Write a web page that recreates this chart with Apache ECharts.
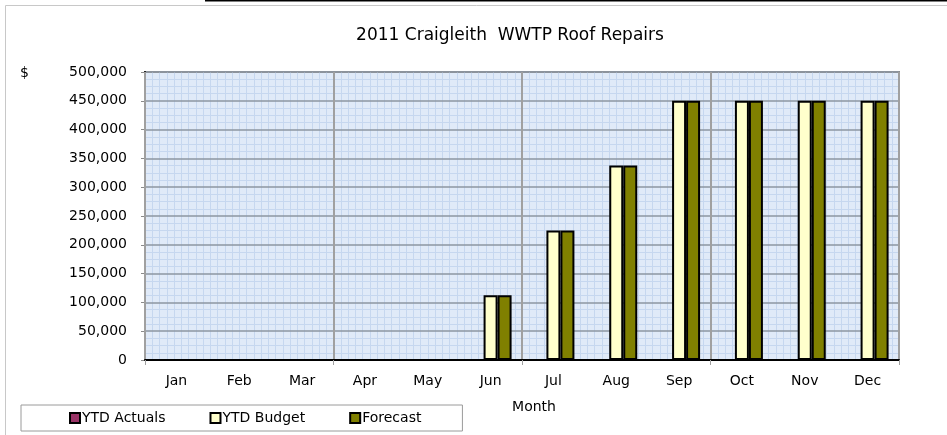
<!DOCTYPE html>
<html>
<head>
<meta charset="utf-8">
<script src="https://cdn.jsdelivr.net/npm/echarts@6/dist/echarts.min.js"></script>
<style>
  html, body { margin: 0; padding: 0; background: #fff; }
  #main { width: 947px; height: 435px; }
</style>
</head>
<body>
<div id="main"></div>
<script>
// chart data
var months = ['Jan', 'Feb', 'Mar', 'Apr', 'May', 'Jun', 'Jul', 'Aug', 'Sep', 'Oct', 'Nov', 'Dec'];
var ytdActuals = [0, 0, 0, 0, 0, 0, 0, 0, 0, 0, 0, 0];
var ytdBudget = [0, 0, 0, 0, 0, 112500, 225000, 337500, 450000, 450000, 450000, 450000];
var forecast = [0, 0, 0, 0, 0, 112500, 225000, 337500, 450000, 450000, 450000, 450000];
var yTicks = [0, 50000, 100000, 150000, 200000, 250000, 300000, 350000, 400000, 450000, 500000];

var font = 'DejaVu Sans';
var myChart = echarts.init(document.getElementById('main'));

var option = {
    animation: false,
    backgroundColor: '#fff',
    textStyle: { fontFamily: font, color: '#000' },
    title: {
        text: '2011 Craigleith  WWTP Roof Repairs',
        left: 505,
        textAlign: 'center',
        top: 22,
        textStyle: { fontFamily: font, fontSize: 17, fontWeight: 'normal', color: '#000' }
    },
    graphic: [
        // outer chart frame
        { type: 'rect', shape: { x: 5.5, y: 5.5, width: 960, height: 450 }, style: { fill: 'none', stroke: '#c8c8c8', lineWidth: 1 }, silent: true },
        // bit of the sheet above the chart
        { type: 'line', shape: { x1: 205, y1: 0.5, x2: 947, y2: 0.5 }, style: { stroke: '#000', lineWidth: 2 }, silent: true },
        { type: 'text', left: 20, top: 66, style: { text: '$', font: '14px "DejaVu Sans"', fill: '#000' } }
    ],
    legend: {
        left: 21,
        top: 405,
        data: ['YTD Actuals', 'YTD Budget', 'Forecast'],
        icon: 'rect',
        itemWidth: 10,
        itemHeight: 10,
        itemGap: 44,
        padding: [6, 41, 6, 48],
        borderColor: '#9a9a9a',
        borderWidth: 1,
        textStyle: { fontFamily: font, fontSize: 14, color: '#000', padding: [0, 0, 0, -3] }
    },
    grid: {
        left: 145,
        right: 48,
        top: 72,
        bottom: 75,
        show: true,
        backgroundColor: '#e0eaf8',
        borderColor: '#8a8a8a',
        borderWidth: 2
    },
    xAxis: [
        {
            type: 'category',
            data: months,
            name: 'Month',
            nameLocation: 'middle',
            nameGap: 40,
            nameTextStyle: { fontFamily: font, fontSize: 14, color: '#000', padding: [0, 0, 0, 24] },
            axisLine: { lineStyle: { color: '#000', width: 2 } },
            axisTick: { show: true, interval: 2, length: 5, lineStyle: { color: '#a0a0a0', width: 1 } },
            splitLine: { show: true, interval: 2, lineStyle: { color: '#a0a0a0', width: 2 } },
            axisLabel: { margin: 14, fontFamily: font, fontSize: 14, color: '#000' },
            z: 4
        },
        {
            // hidden value axis for the fine background grid
            type: 'value',
            min: 0,
            max: 12,
            interval: 3,
            position: 'bottom',
            axisLine: { show: false },
            axisTick: { show: false },
            axisLabel: { show: false },
            minorTick: { show: false, splitNumber: 26 },
            minorSplitLine: { show: true, lineStyle: { color: '#c6d7ef', width: 1 } },
            splitLine: { show: false },
            z: 1
        }
    ],
    yAxis: {
        type: 'value',
        min: yTicks[0],
        max: yTicks[yTicks.length - 1],
        interval: yTicks[1] - yTicks[0],
        axisLine: { show: true, lineStyle: { color: '#000', width: 2 } },
        axisTick: { show: true, length: 4, lineStyle: { color: '#8a8a8a' } },
        axisLabel: {
            margin: 18,
            fontFamily: font,
            fontSize: 14,
            color: '#000',
            formatter: function (v) { return echarts.format.addCommas(v); }
        },
        minorTick: { show: false, splitNumber: 4 },
        minorSplitLine: { show: true, lineStyle: { color: '#c6d7ef', width: 1 } },
        splitLine: { show: true, lineStyle: { color: '#8c96a2', width: 1.5 } },
        z: 2
    },
    series: [
        {
            name: 'YTD Actuals',
            type: 'bar',
            xAxisIndex: 0,
            data: ytdActuals,
            barWidth: 14,
            barGap: '0%',
            itemStyle: { color: '#993366', borderColor: '#000', borderWidth: 2 }
        },
        {
            name: 'YTD Budget',
            type: 'bar',
            xAxisIndex: 0,
            data: ytdBudget,
            barWidth: 14,
            barGap: '0%',
            itemStyle: { color: '#ffffcc', borderColor: '#000', borderWidth: 2 }
        },
        {
            name: 'Forecast',
            type: 'bar',
            xAxisIndex: 0,
            data: forecast,
            barWidth: 14,
            barGap: '0%',
            itemStyle: { color: '#808000', borderColor: '#000', borderWidth: 2 }
        }
    ]
};

myChart.setOption(option);
</script>
</body>
</html>
